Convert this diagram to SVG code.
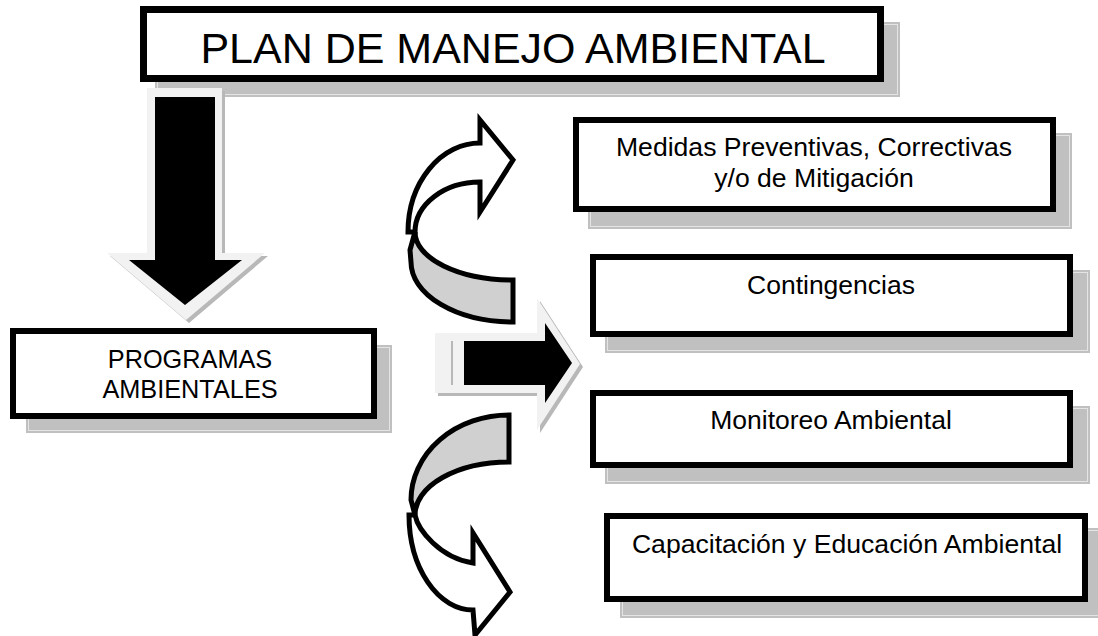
<svg xmlns="http://www.w3.org/2000/svg" width="1098" height="636" viewBox="0 0 1098 636">
<style>
.sh{fill:#c0c0c0;}
.shl{fill:none;stroke:#e4e4e4;stroke-width:1;}
.bx{fill:#ffffff;stroke:#000000;stroke-width:6;}
.t{font-family:"Liberation Sans",Arial,sans-serif;fill:#000000;text-anchor:middle;}
.band{fill:#d0d0d0;stroke:#000;stroke-width:5;stroke-linejoin:miter;}
.wband{fill:#ffffff;stroke:#000;stroke-width:5;stroke-linejoin:miter;}
.lt{fill:#f2f2f2;}
.ash{fill:#b8b8b8;}
</style>
<rect width="1098" height="636" fill="#ffffff"/>

<g id="title">
<rect class="sh" x="155" y="22" width="745" height="75"/>
<rect class="shl" x="157.5" y="24.5" width="740" height="70"/>
<rect class="bx" x="143.5" y="9.5" width="737" height="69" style="stroke-width:7"/>
<text class="t" x="513" y="63" font-size="43">PLAN DE MANEJO AMBIENTAL</text>
</g>

<g id="programas">
<rect class="sh" x="26" y="345" width="366" height="88"/>
<rect class="shl" x="28.5" y="347.5" width="361" height="83"/>
<rect class="bx" x="13" y="331" width="361" height="85"/>
<text class="t" x="190" y="368" font-size="25.3">PROGRAMAS</text>
<text class="t" x="190" y="398" font-size="25.3">AMBIENTALES</text>
</g>

<g id="medidas">
<rect class="sh" x="588" y="133" width="484" height="96"/>
<rect class="shl" x="590.5" y="135.5" width="479" height="91"/>
<rect class="bx" x="576" y="120" width="477" height="89"/>
<text class="t" x="814" y="156" font-size="26.6">Medidas Preventivas, Correctivas</text>
<text class="t" x="814" y="187" font-size="26.6">y/o de Mitigación</text>
</g>

<g id="contingencias">
<rect class="sh" x="605" y="270" width="485" height="83"/>
<rect class="shl" x="607.5" y="272.5" width="480" height="78"/>
<rect class="bx" x="593" y="257" width="477" height="77"/>
<text class="t" x="831" y="294" font-size="26.5">Contingencias</text>
</g>

<g id="monitoreo">
<rect class="sh" x="605" y="406" width="485" height="78"/>
<rect class="shl" x="607.5" y="408.5" width="480" height="73"/>
<rect class="bx" x="593" y="393" width="477" height="72"/>
<text class="t" x="831" y="429" font-size="26.5">Monitoreo Ambiental</text>
</g>

<g id="capacitacion">
<rect class="sh" x="620" y="528" width="490" height="90"/>
<rect class="shl" x="622.5" y="530.5" width="485" height="85"/>
<rect class="bx" x="607" y="516" width="478" height="83"/>
<text class="t" x="847" y="553" font-size="26.6">Capacitación y Educación Ambiental</text>
</g>

<g id="connectors">
<g id="arrow-down">
<polygon class="ash" points="150,91 225,91 225,256 268,256 189,323 110,256 150,256"/>
<polygon class="lt" points="147,88 222,88 222,253 265,253 186,320 107,253 147,253"/>
<polygon fill="#000" points="155,97 215,97 215,260 242,260 185,305 129,260 155,260"/>
</g>
<g id="arrow-right">
<polygon class="ash" points="438,336 540,336 540,301 583,367 540,433 540,396 438,396"/>
<polygon class="lt" points="435,333 537,333 537,298 580,364 537,430 537,393 435,393"/>
<polygon fill="#000" points="464,341 545,341 545,323 572,363 545,403 545,385 464,385"/>
<rect x="451" y="341" width="2" height="44" fill="#b8b8b8"/>
</g>
<g id="arrow-curved-up">
<path class="band" d="M513,280 A98,48 0 0 1 415,232 L410,250 L411,262 A102,60 0 0 0 513,322 Z"/>
<path class="wband" d="M415,232 A65,50 0 0 1 480,182 L480,212 L513,160 L480,120 L480,143 A72,89 0 0 0 408,232 Z"/>
</g>
<g id="arrow-curved-down">
<path class="band" d="M509,462 A94,53 0 0 0 415,515 L411,500 A98,85 0 0 1 509,415 Z"/>
<path class="wband" d="M415,515 C418,530 440,558 473,563 L473,533 L510,592 L475,635 L473,610 A64,95 0 0 1 409,515 Z"/>
</g>
</g>
</svg>
